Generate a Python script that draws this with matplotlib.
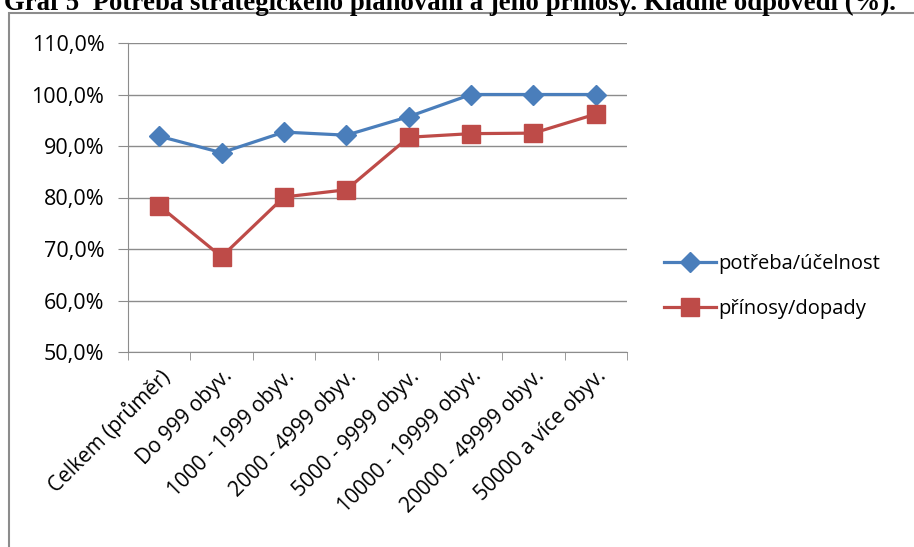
import matplotlib
matplotlib.use("Agg")
import matplotlib.pyplot as plt
from matplotlib.patches import Rectangle
from matplotlib.ticker import FixedLocator, FuncFormatter

kategorie = ["Celkem (průměr)", "Do 999 obyv.", "1000 - 1999 obyv.", "2000 - 4999 obyv.",
             "5000 - 9999 obyv.", "10000 - 19999 obyv.", "20000 - 49999 obyv.", "50000 a více obyv."]
potreba = [91.9, 88.7, 92.7, 92.1, 95.7, 100.0, 100.0, 100.0]
prinosy = [78.4, 68.5, 80.1, 81.5, 91.7, 92.4, 92.5, 96.2]

titulek = "Graf 5  Potřeba strategického plánování a jeho přínosy. Kladné odpovědi (%)."

W, H = 914, 547
fig = plt.figure(figsize=(W / 100, H / 100), dpi=100)
plt.rcParams['font.family'] = ['Open Sans', 'DejaVu Sans']

# ramecek grafu (oriznuty vpravo a dole)
fig.patches.append(Rectangle((9 / W, -0.1), 1.2, 1 - 13 / H + 0.1, transform=fig.transFigure,
                             fill=False, edgecolor='#8c8c8c', linewidth=1.5))
fig.text(4 / W, 1 - 10 / H, titulek, fontsize=19.3, fontweight='bold',
         family=['Liberation Serif'], va='baseline', ha='left')

ax = fig.add_axes([128 / W, 1 - 352 / H, (627 - 128) / W, (352 - 43) / H])
x = range(len(kategorie))
ax.plot(x, potreba, color='#4a7ebb', linewidth=2.3, marker='D', markersize=10,
        label='potřeba/účelnost')
ax.plot(x, prinosy, color='#be4b48', linewidth=2.3, marker='s', markersize=13.5,
        label='přínosy/dopady')

ax.set_xlim(-0.5, len(kategorie) - 0.5)
ax.set_ylim(50, 110)
ax.set_yticks(range(50, 111, 10))
ax.yaxis.set_major_formatter(FuncFormatter(lambda v, p: f"{v:.1f}%".replace('.', ',')))
ax.grid(axis='y', color='#8c8c8c', linewidth=1)
ax.set_axisbelow(True)

ax.set_xticks(list(x))
ax.set_xticklabels(kategorie, rotation=45, ha='right', rotation_mode='anchor', fontsize=15)
ax.tick_params(axis='x', which='major', length=0, pad=10)
ax.xaxis.set_minor_locator(FixedLocator([i - 0.5 for i in range(len(kategorie) + 1)]))
ax.tick_params(axis='x', which='minor', length=6, color='#8c8c8c')
ax.tick_params(axis='y', length=7, color='#8c8c8c', labelsize=15.5, pad=10)

for s in ['top', 'right']:
    ax.spines[s].set_visible(False)
for s in ['left', 'bottom']:
    ax.spines[s].set_color('#8c8c8c')

fig.legend(loc='upper left', bbox_to_anchor=(646 / W, 1 - 236 / H), frameon=False,
           fontsize=14.5, handlelength=2.6, handletextpad=0.1, labelspacing=1.25)

fig.savefig("out.png", dpi=100)
